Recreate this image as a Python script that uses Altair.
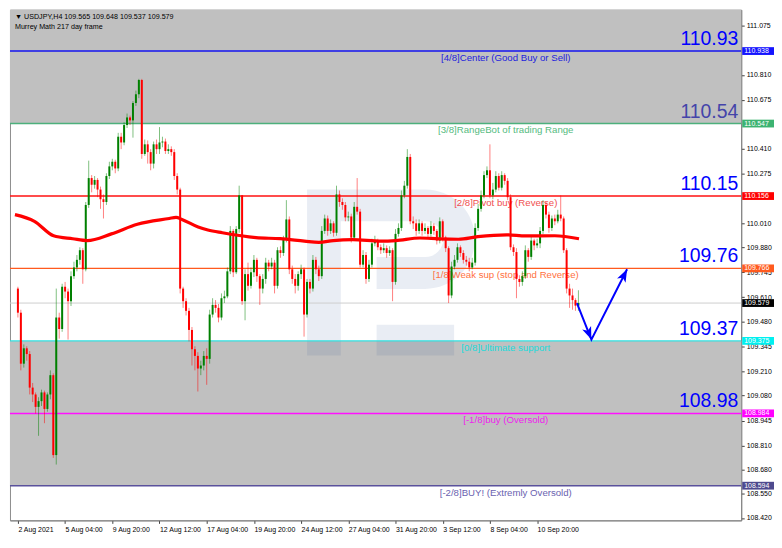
import altair as alt
import pandas as pd

W, H = 736, 514

# ---------------- data ----------------
first_open = 109.657
closes = [
    109.527, 109.252, 109.335, 109.304, 109.123, 109.086, 109.019, 109.050, 109.097, 109.008,
    109.086, 109.190, 108.759, 109.501, 109.439, 109.667, 109.641, 109.589, 109.724, 109.771,
    109.812, 109.864, 109.761, 110.108, 110.253, 110.217, 110.243, 110.191, 110.139, 110.124,
    110.264, 110.316, 110.341, 110.305, 110.476, 110.445, 110.539, 110.580, 110.564, 110.658,
    110.705, 110.782, 110.383, 110.435, 110.393, 110.331, 110.435, 110.409, 110.445, 110.450,
    110.399, 110.409, 110.393, 110.264, 110.191, 109.657, 109.589, 109.537, 109.434, 109.330,
    109.294, 109.226, 109.242, 109.294, 109.278, 109.517, 109.569, 109.553, 109.501, 109.605,
    109.615, 109.750, 109.968, 109.745, 109.978, 110.160, 109.589, 109.735, 109.672, 109.745,
    109.812, 109.724, 109.657, 109.709, 109.797, 109.776, 109.797, 109.672, 109.864, 109.849,
    109.926, 110.030, 109.761, 109.709, 109.672, 109.735, 109.761, 109.517, 109.693, 109.657,
    109.812, 109.761, 109.724, 109.968, 110.035, 109.968, 110.009, 109.958, 110.165, 110.124,
    110.108, 110.041, 110.046, 109.932, 110.098, 110.072, 109.786, 109.838, 109.709, 109.786,
    109.901, 109.916, 109.880, 109.864, 109.875, 109.849, 109.864, 109.693, 109.952, 109.984,
    110.160, 110.212, 110.367, 110.020, 110.009, 109.968, 110.009, 109.968, 109.984, 109.952,
    109.994, 109.968, 109.916, 110.020, 109.932, 109.875, 109.620, 109.776, 109.812, 109.880,
    109.849, 109.812, 109.802, 109.771, 109.797, 109.984, 110.087, 110.160, 110.269, 110.295,
    110.160, 110.191, 110.264, 110.201, 110.269, 110.238, 110.150, 109.880, 109.854, 109.709,
    109.693, 109.724, 109.864, 109.828, 109.916, 109.890, 109.901, 109.968, 110.108, 110.056,
    109.984, 110.035, 110.020, 110.056, 110.035, 109.864, 109.657, 109.620, 109.595, 109.565,
    109.579,
]
highs = [
    109.667, 109.543, 109.356, 109.346, 109.320, 109.148, 109.097, 109.071, 109.112, 109.107,
    109.097, 109.216, 109.200, 109.657, 109.527, 109.683, 109.693, 109.657, 109.750, 109.802,
    109.838, 109.880, 109.875, 110.124, 110.347, 110.269, 110.264, 110.253, 110.207, 110.165,
    110.279, 110.341, 110.357, 110.352, 110.497, 110.497, 110.554, 110.601, 110.590, 110.668,
    110.725, 110.788, 110.788, 110.461, 110.456, 110.409, 110.450, 110.461, 110.528, 110.476,
    110.466, 110.435, 110.424, 110.409, 110.279, 110.201, 109.667, 109.605, 109.553, 109.450,
    109.346, 109.314, 109.268, 109.320, 109.335, 109.543, 109.605, 109.595, 109.574, 109.631,
    109.646, 109.771, 109.994, 109.978, 109.994, 110.212, 110.160, 109.761, 109.797, 109.771,
    109.838, 109.823, 109.735, 109.735, 109.823, 109.812, 109.823, 109.812, 109.880, 109.885,
    109.942, 110.134, 110.046, 109.781, 109.735, 109.750, 109.786, 109.771, 109.709, 109.709,
    109.838, 109.828, 109.781, 109.994, 110.056, 110.051, 110.030, 110.020, 110.212, 110.186,
    110.144, 110.124, 110.072, 110.061, 110.124, 110.253, 110.087, 109.864, 109.854, 109.812,
    109.926, 109.942, 109.926, 109.895, 109.901, 109.890, 109.885, 109.875, 109.978, 110.009,
    110.186, 110.238, 110.409, 110.383, 110.046, 110.030, 110.030, 110.020, 110.009, 109.994,
    110.020, 110.009, 109.978, 110.041, 110.030, 109.942, 109.885, 109.802, 109.838, 109.901,
    109.890, 109.864, 109.833, 109.823, 109.823, 110.009, 110.113, 110.186, 110.290, 110.316,
    110.435, 110.227, 110.290, 110.279, 110.290, 110.279, 110.253, 110.165, 109.895, 109.875,
    109.729, 109.750, 109.890, 109.875, 109.937, 109.926, 109.926, 109.989, 110.134, 110.124,
    110.072, 110.051, 110.056, 110.082, 110.160, 110.046, 109.875, 109.683, 109.657, 109.605,
    109.648,
]
lows = [
    109.501, 109.216, 109.231, 109.268, 109.086, 109.045, 108.983, 108.863, 109.024, 108.931,
    108.993, 109.060, 108.744, 108.708, 109.387, 109.424, 109.605, 109.382, 109.563, 109.709,
    109.750, 109.786, 109.683, 109.750, 110.092, 110.176, 110.196, 110.150, 110.087, 110.035,
    110.108, 110.248, 110.295, 110.279, 110.290, 110.409, 110.430, 110.523, 110.539, 110.471,
    110.642, 110.684, 110.357, 110.373, 110.331, 110.295, 110.305, 110.383, 110.383, 110.419,
    110.383, 110.383, 110.373, 110.243, 110.165, 109.631, 109.553, 109.512, 109.372, 109.242,
    109.216, 109.102, 109.190, 109.216, 109.138, 109.252, 109.501, 109.527, 109.475, 109.486,
    109.579, 109.605, 109.735, 109.719, 109.735, 109.958, 109.569, 109.486, 109.646, 109.657,
    109.719, 109.693, 109.569, 109.631, 109.683, 109.750, 109.761, 109.631, 109.657, 109.823,
    109.833, 109.906, 109.735, 109.683, 109.631, 109.646, 109.709, 109.398, 109.501, 109.631,
    109.641, 109.735, 109.698, 109.709, 109.952, 109.942, 109.952, 109.937, 109.942, 110.098,
    110.082, 110.020, 110.020, 109.906, 109.916, 110.056, 109.771, 109.771, 109.683, 109.693,
    109.771, 109.885, 109.864, 109.844, 109.849, 109.823, 109.833, 109.589, 109.678, 109.937,
    109.968, 110.144, 110.196, 110.004, 109.978, 109.942, 109.952, 109.942, 109.952, 109.932,
    109.937, 109.947, 109.895, 109.901, 109.911, 109.854, 109.579, 109.605, 109.761, 109.797,
    109.828, 109.792, 109.781, 109.750, 109.761, 109.781, 109.968, 110.072, 110.144, 110.253,
    110.144, 110.139, 110.176, 110.186, 110.186, 110.217, 110.134, 109.864, 109.833, 109.605,
    109.667, 109.672, 109.709, 109.802, 109.812, 109.864, 109.875, 109.875, 109.952, 110.035,
    109.958, 109.968, 109.999, 110.009, 110.020, 109.849, 109.631, 109.553, 109.543, 109.537,
    109.537,
]

date_labels = ["2 Aug 2021", "5 Aug 04:00", "9 Aug 20:00", "12 Aug 12:00", "17 Aug 04:00",
               "19 Aug 20:00", "24 Aug 12:00", "27 Aug 04:00", "31 Aug 20:00", "3 Sep 12:00",
               "8 Sep 04:00", "10 Sep 20:00"]
bars_per_label = 16

# price-scale labels visible in the reference (those fully hidden behind the level tags are left out)
price_ticks = [111.075, 110.810, 110.675, 110.410, 110.275, 110.010,
               109.880, 109.745, 109.610, 109.480, 109.345, 109.210, 109.080, 108.945, 108.810,
               108.680, 108.550, 108.420]

ma_idx = [-1, 5.6, 12.1, 18.6, 23.5, 31.7, 40.5, 51.3, 53.6, 55.6, 61.1, 64.4, 69.3, 80.7,
          88.9, 97.1, 102, 106.9, 113.4, 123.2, 128.1, 136.3, 142.8, 149.3, 155.9, 165.7,
          172.2, 182, 190.2]
ma_val = [110.056, 110.020, 109.942, 109.926, 109.916, 109.952, 110.004, 110.035, 110.041,
          110.030, 109.989, 109.973, 109.958, 109.932, 109.926, 109.913, 109.906, 109.916,
          109.921, 109.913, 109.916, 109.930, 109.925, 109.923, 109.937, 109.947, 109.941,
          109.942, 109.926]

level_prices = [110.938, 110.547, 110.156, 109.766, 109.375, 108.984, 108.594]
level_names = ["[4/8]Center (Good Buy or Sell)", "[3/8]RangeBot of trading Range",
               "[2/8]Pivot buy (Reverse)", "[1/8]Weak sup (stop and Reverse)",
               "[0/8]Ultimate support", "[-1/8]buy (Oversold)", "[-2/8]BUY! (Extremly Oversold)"]
level_line_colors = ["#1414f0", "#4cb07c", "#ff1010", "#ff5a1e", "#30e0e0", "#ff10ff", "#5a519c"]
level_text_colors = ["#2222dd", "#55bb80", "#f05050", "#ff7040", "#22dada", "#ee22ee", "#6a62b0"]
level_box_colors = ["#1414ff", "#3cb371", "#ff0000", "#ff5a1e", "#00f0f0", "#ff00ff", "#4e4a8e"]

big_labels = ["110.93", "110.54", "110.15", "109.76", "109.37", "108.98"]
big_prices = [110.938, 110.547, 110.156, 109.766, 109.375, 108.984]
big_colors = ["#0000ff", "#4444aa", "#0000ff", "#0000ff", "#0000ff", "#0000ff"]

current_price = 109.579

zone_top = [111.161, 109.375]
zone_bottom = [110.547, 108.594]

arrow_idx = [189.5, 194.4, 206.5]
arrow_price = [109.579, 109.382, 109.761]

title_lines = ["\u25bc USDJPY,H4  109.565 109.648 109.537 109.579", "Murrey Math 217 day frame"]

# ---------------- build tables ----------------
n = len(closes)
opens = [first_open] + closes[:-1]
cdf = pd.DataFrame({
    "i": list(range(n)),
    "o": opens,
    "c": closes,
    "h": [max(h, o, c) for h, o, c in zip(highs, opens, closes)],
    "l": [min(l, o, c) for l, o, c in zip(lows, opens, closes)],
})
cdf["dir"] = ["up" if c >= o else "down" for o, c in zip(cdf["o"], cdf["c"])]

xs = alt.Scale(domain=[-1, 243.5], nice=False, zero=False)
ys = alt.Scale(domain=[108.407, 111.161], nice=False, zero=False)
ccol = alt.Color("dir:N", scale=alt.Scale(domain=["up", "down"], range=["#008000", "#ff0000"]), legend=None)

label_expr = " : ".join("datum.value == %d ? '%s'" % (k * bars_per_label, d)
                        for k, d in enumerate(date_labels)) + " : ''"
xaxis = alt.Axis(values=[k * bars_per_label for k in range(len(date_labels))], labelExpr=label_expr,
                 title=None, grid=False, tickSize=3, labelAlign="left", labelFontSize=7,
                 labelFont="Liberation Sans", labelColor="#000000", labelPadding=2,
                 domainColor="#808080", tickColor="#404040", labelOverlap=False, labelFlush=False,
                 labelBound=False)
yaxis = alt.Axis(orient="right", values=price_ticks, format=".3f", title=None, grid=False,
                 tickSize=3, labelPadding=2, labelFontSize=7, labelFont="Liberation Sans",
                 labelColor="#000000", domainColor="#808080", tickColor="#404040",
                 labelOverlap=False, labelBound=False, labelFlush=False)


def X(field):
    return alt.X(field, scale=xs, axis=xaxis)


def Y(field):
    return alt.Y(field, scale=ys, axis=yaxis)


zones = alt.Chart(pd.DataFrame({"top": zone_top, "bot": zone_bottom})).mark_rect(color="#c0c0c0").encode(
    x=alt.value(0), x2=alt.value(W), y=Y("top:Q"), y2="bot:Q")

# faint broker logo watermark (decoration, drawn with simple shapes)
one = pd.DataFrame({"k": [0]})
wm_style = dict(color="#2a5298", opacity=0.1)
wm_stem = alt.Chart(one).mark_rect(**wm_style).encode(
    x=alt.value(299), x2=alt.value(333), y=alt.value(181), y2=alt.value(348))
wm_top = alt.Chart(one).mark_rect(**wm_style).encode(
    x=alt.value(333), x2=alt.value(418), y=alt.value(181), y2=alt.value(213))
wm_mid = alt.Chart(one).mark_rect(**wm_style).encode(
    x=alt.value(369), x2=alt.value(418), y=alt.value(249), y2=alt.value(281))
wm_low = alt.Chart(one).mark_rect(**wm_style).encode(
    x=alt.value(369), x2=alt.value(447), y=alt.value(317), y2=alt.value(348))
wm_bowl = alt.Chart(one).mark_arc(radius=50, radius2=18, theta=0, theta2=3.14159, **wm_style).encode(
    x=alt.value(418), y=alt.value(231))

cur = alt.Chart(pd.DataFrame({"p": [current_price]})).mark_rule(color="#cfcfcf", strokeWidth=1).encode(
    x=alt.value(0), x2=alt.value(W), y=Y("p:Q"))

ldf = pd.DataFrame({"p": level_prices, "name": level_names, "lc": level_line_colors,
                    "tc": level_text_colors, "bc": level_box_colors})
lines = alt.Chart(ldf).mark_rule(strokeWidth=1.5).encode(
    x=alt.value(0), x2=alt.value(W), y=Y("p:Q"), color=alt.Color("lc:N", scale=None))
ltext = alt.Chart(ldf).mark_text(font="Liberation Sans", fontSize=9.7, align="center",
                                 baseline="middle", dy=7).encode(
    x=alt.value(499), y=Y("p:Q"), text="name:N", color=alt.Color("tc:N", scale=None))

wicks = alt.Chart(cdf).mark_rule(strokeWidth=1, opacity=0.5).encode(
    x=X("i:Q"), y=Y("l:Q"), y2="h:Q", color=ccol)
bodies = alt.Chart(cdf).transform_calculate(
    cb="abs(datum.c - datum.o) < 0.004 ? datum.o - 0.004 : datum.c").mark_bar(size=2).encode(
    x=X("i:Q"), y=Y("o:Q"), y2="cb:Q", color=ccol)

ma = alt.Chart(pd.DataFrame({"i": ma_idx, "v": ma_val})).mark_line(
    color="#ff0000", strokeWidth=3.2, interpolate="monotone").encode(x=X("i:Q"), y=Y("v:Q"))

bdf = pd.DataFrame({"p": big_prices, "t": big_labels, "col": big_colors})
big = alt.Chart(bdf).mark_text(font="Liberation Sans", fontSize=19.5, align="right",
                               baseline="alphabetic", dy=-6).encode(
    x=alt.value(W - 3), y=Y("p:Q"), text="t:N", color=alt.Color("col:N", scale=None))

adf = pd.DataFrame({"i": arrow_idx, "p": arrow_price, "k": [0, 1, 2]})
arrow = alt.Chart(adf).mark_line(color="#0000ff", strokeWidth=2).encode(
    x=X("i:Q"), y=Y("p:Q"), order="k:Q")
head_path = "M0,0L0.6,1.6L0,1.2L-0.6,1.6Z"
head1 = alt.Chart(adf.iloc[[1]]).mark_point(shape=head_path, filled=True, size=256, angle=158,
                                            color="#0000ff", opacity=1).encode(x=X("i:Q"), y=Y("p:Q"))
head2 = alt.Chart(adf.iloc[[2]]).mark_point(shape=head_path, filled=True, size=256, angle=27,
                                            color="#0000ff", opacity=1).encode(x=X("i:Q"), y=Y("p:Q"))

title1 = alt.Chart(pd.DataFrame({"t": [title_lines[0]]})).mark_text(
    font="Liberation Sans", fontSize=7.2, align="left", baseline="middle", color="#000000").encode(
    x=alt.value(5), y=alt.value(7), text="t:N")
title2 = alt.Chart(pd.DataFrame({"t": [title_lines[1]]})).mark_text(
    font="Liberation Sans", fontSize=7.2, align="left", baseline="middle", color="#000000").encode(
    x=alt.value(5), y=alt.value(17.5), text="t:N")

boxdf = pd.DataFrame({"p": level_prices + [current_price], "bc": level_box_colors + ["#000000"]})
boxes = alt.Chart(boxdf).transform_calculate(
    lo="datum.p - 0.021", hi="datum.p + 0.021").mark_rect().encode(
    x=alt.value(W + 1), x2=alt.value(W + 33),
    y=Y("lo:Q"), y2="hi:Q", color=alt.Color("bc:N", scale=None))
boxtext = alt.Chart(boxdf).mark_text(font="Liberation Sans", fontSize=7, align="left",
                                     baseline="middle", color="#ffffff").encode(
    x=alt.value(W + 3), y=Y("p:Q"), text=alt.Text("p:Q", format=".3f"))

chart = alt.layer(
    zones, wm_stem, wm_top, wm_mid, wm_low, wm_bowl,
    cur, lines, ltext, wicks, bodies, ma, big, arrow, head1, head2,
    title1, title2, boxes, boxtext
).properties(
    width=W, height=H, padding={"left": 0, "top": 0, "right": 0, "bottom": 0}
).configure_view(stroke="#8c8c8c", strokeWidth=1)

chart.save("out.html", embed_options={"renderer": "svg", "actions": False})
